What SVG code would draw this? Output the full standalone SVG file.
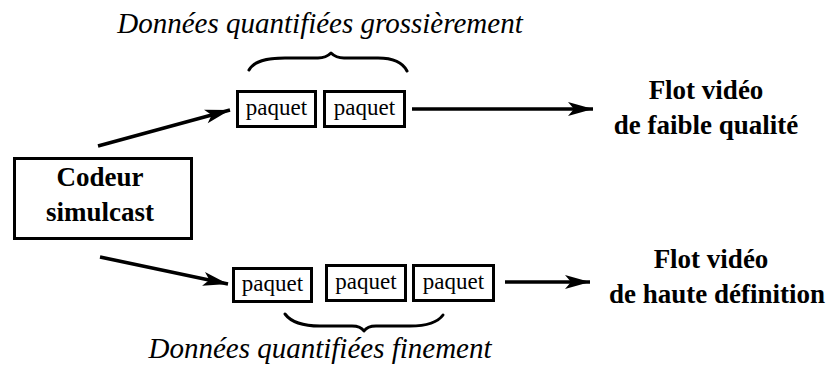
<svg xmlns="http://www.w3.org/2000/svg" width="835" height="373" viewBox="0 0 835 373">
  <style>
    .box { fill: #fff; stroke: #000; stroke-width: 3; }
    .pkt { fill: #fff; stroke: #000; stroke-width: 3; }
    .line { fill: none; stroke: #000; stroke-width: 3.5; }
    .brace { fill: none; stroke: #000; stroke-width: 3; stroke-linecap: round; stroke-linejoin: round; }
    text { font-family: 'Liberation Serif', 'DejaVu Serif', serif; fill: #000; text-anchor: middle; }
    .bold { font-weight: bold; font-size: 27px; }
    .reg { font-size: 23px; }
    .ital { font-style: italic; font-size: 29px; }
  </style>
  <defs>
    <marker id="arrow" markerUnits="userSpaceOnUse" markerWidth="30" markerHeight="20" viewBox="-26 -10 30 20" refX="0" refY="0" orient="auto">
      <path d="M0,0 L-25,-7 L-19,0 L-25,7 Z" fill="#000"/>
    </marker>
  </defs>

  <rect width="835" height="373" fill="#fff"/>

  <!-- encoder -->
  <g id="codeur">
    <rect class="box" x="14.5" y="158.5" width="177" height="80"/>
    <text class="bold" x="100" y="186">Codeur</text>
    <text class="bold" x="100" y="221">simulcast</text>
  </g>

  <!-- coarse stream packets -->
  <g id="paquets-grossiers">
    <rect class="pkt" x="237.5" y="91.5" width="78" height="35"/>
    <text class="reg" x="276.5" y="115">paquet</text>
    <rect class="pkt" x="324.5" y="91.5" width="80" height="35"/>
    <text class="reg" x="364.5" y="115">paquet</text>
  </g>

  <!-- fine stream packets -->
  <g id="paquets-fins">
    <rect class="pkt" x="233.5" y="268.5" width="78" height="33"/>
    <text class="reg" x="272.5" y="291">paquet</text>
    <rect class="pkt" x="326.5" y="265.5" width="79" height="35"/>
    <text class="reg" x="366" y="289">paquet</text>
    <rect class="pkt" x="413.5" y="265.5" width="80" height="35"/>
    <text class="reg" x="453.5" y="289">paquet</text>
  </g>

  <!-- braces and captions -->
  <g id="legende-grossiere">
    <text class="ital" x="320" y="33">Données quantifiées grossièrement</text>
    <path class="brace" d="M249,70 C254,61 266,58 285,58 L318,58 C325,58 328,56 331,53 C334,56 337,58 344,58 L378,58 C394,58 403,63 407,71"/>
  </g>
  <g id="legende-fine">
    <path class="brace" d="M285,314 C291,322 302,326 320,326 L352,326 C358,326 362,328 364,331 C366,328 370,326 376,326 L410,326 C428,326 438,322 443,315"/>
    <text class="ital" x="320" y="358">Données quantifiées finement</text>
  </g>

  <!-- outputs -->
  <g id="flot-faible">
    <text class="bold" x="706" y="99">Flot vidéo</text>
    <text class="bold" x="706" y="134">de faible qualité</text>
  </g>
  <g id="flot-haute">
    <text class="bold" x="711" y="268">Flot vidéo</text>
    <text class="bold" x="717" y="303">de haute définition</text>
  </g>

  <!-- connectors -->
  <g id="connecteurs">
    <line class="line" x1="98" y1="146" x2="230" y2="110" marker-end="url(#arrow)"/>
    <line class="line" x1="100" y1="257" x2="228" y2="284" marker-end="url(#arrow)"/>
    <line class="line" x1="412" y1="109" x2="593" y2="109" marker-end="url(#arrow)"/>
    <line class="line" x1="505" y1="282" x2="590" y2="282" marker-end="url(#arrow)"/>
  </g>
</svg>
